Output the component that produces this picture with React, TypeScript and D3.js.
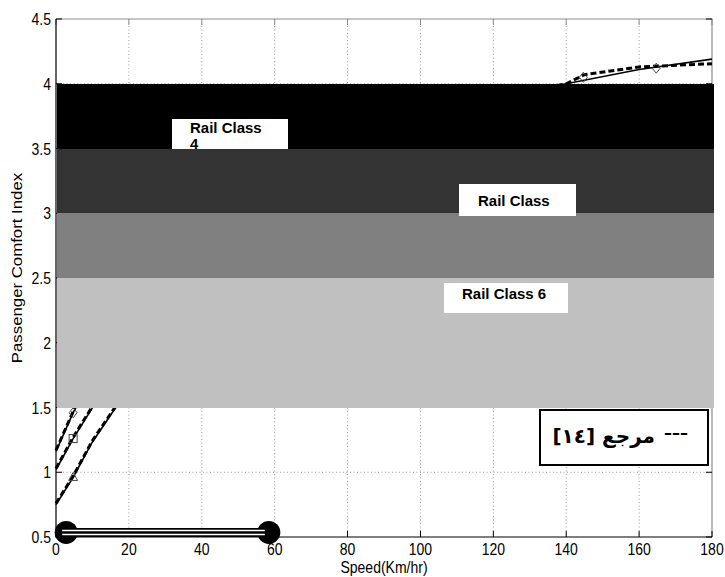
import React from 'react';
import * as d3 from 'd3';

// axis ticks
const speedTicks = [0, 20, 40, 60, 80, 100, 120, 140, 160, 180];
const indexTicks = [0.5, 1, 1.5, 2, 2.5, 3, 3.5, 4, 4.5];

// comfort bands (rail classes), low -> high
const bandLow = [1.5, 2.5, 3, 3.5];
const bandHigh = [2.5, 3, 3.5, 4];
const bandFill = ['#c0c0c0', '#808080', '#333333', '#000000'];

// simulated curves (solid) and reference [14] curves (dashed): [speed, index]
const curveA: [number, number][] = [[0, 1.16], [4.7, 1.46], [20, 2.3], [40, 2.9], [60, 3.3], [80, 3.55], [100, 3.75], [120, 3.9], [140, 4.0], [160, 4.11], [180, 4.19]];
const curveB: [number, number][] = [[0, 1.02], [4.7, 1.26], [20, 1.95], [40, 2.5], [60, 2.9], [80, 3.2], [100, 3.4], [120, 3.55], [140, 3.7], [160, 3.8], [180, 3.88]];
const curveC: [number, number][] = [[0, 0.75], [4.7, 0.96], [9.9, 1.23], [20, 1.65], [40, 2.2], [60, 2.6], [80, 2.9], [100, 3.1], [120, 3.3], [140, 3.45], [160, 3.55], [180, 3.62]];
const refA: [number, number][] = [[0, 1.17], [4.7, 1.47], [20, 2.32], [40, 2.9], [60, 3.3], [80, 3.55], [100, 3.75], [120, 3.9], [140, 4.0], [145, 4.07], [160, 4.13], [180, 4.155]];
const refB: [number, number][] = [[0, 1.03], [4.7, 1.27], [20, 1.96], [40, 2.5], [60, 2.9], [80, 3.2], [100, 3.4], [120, 3.55], [140, 3.7], [160, 3.8], [180, 3.88]];
const refC: [number, number][] = [[0, 0.76], [4.7, 0.97], [9.9, 1.24], [20, 1.66], [40, 2.2], [60, 2.6], [80, 2.9], [100, 3.1], [120, 3.3], [140, 3.45], [160, 3.55], [180, 3.62]];

// markers on the curves
const diamondPts: [number, number][] = [[4.7, 1.46], [144.7, 4.05], [164.7, 4.12]];
const squarePts: [number, number][] = [[4.7, 1.26]];
const trianglePts: [number, number][] = [[4.7, 0.96]];

// rail segment drawn along the bottom
const railSpeeds = [2.8, 58.4];
const railIndex = 0.535;

const classLabels = [['Rail Class', '4'], ['Rail Class'], ['Rail Class 6']];
const legendDash = '---';
const legendText = 'مرجع [١٤]';

const W = 725;
const H = 577;
const x = d3.scaleLinear().domain([0, 180]).range([56, 712]);
const y = d3.scaleLinear().domain([0.5, 4.5]).range([537, 19]);

// annotation boxes in pixels: [x, y, w, h, textX, baseline]
const boxes = [
  [172, 119, 116, 30, 190, 133],
  [459, 184, 117, 32, 478, 206],
  [444, 283, 124, 30, 462, 299],
];

const line = d3.line<[number, number]>().x(d => x(d[0])).y(d => y(d[1]));
const sans = '"Liberation Sans", Arial, sans-serif';

const App = () => {
  const xl = x.range()[0];
  const xr = x.range()[1];
  const yt = y.range()[1];
  const yb = y.range()[0];
  const railY = y(railIndex);

  return (
    <svg width={W} height={H} style={{ position: 'absolute', left: 0, top: 0, background: '#fff' }}>
      <rect x={0} y={0} width={W} height={H} fill="#fff" />

      {/* grid */}
      <g stroke="#9a9a9a" strokeWidth={1} strokeDasharray="1,2.5">
        {speedTicks.slice(1, -1).map(t => (
          <line key={'gx' + t} x1={x(t)} x2={x(t)} y1={yt} y2={yb} />
        ))}
        {indexTicks.slice(1, -1).map(t => (
          <line key={'gy' + t} x1={xl} x2={xr} y1={y(t)} y2={y(t)} />
        ))}
      </g>

      {/* top / right frame */}
      <path d={`M${xl},${yt}H${xr}V${yb}`} fill="none" stroke="#8c8c8c" strokeWidth={1.2} />

      {/* ticks */}
      <g stroke="#000" strokeWidth={1}>
        {speedTicks.map(t => (
          <g key={'tx' + t}>
            <line x1={x(t)} x2={x(t)} y1={yb} y2={yb - 6} />
            <line x1={x(t)} x2={x(t)} y1={yt} y2={yt + 6} stroke="#8c8c8c" />
          </g>
        ))}
        {indexTicks.map(t => (
          <g key={'ty' + t}>
            <line x1={xl} x2={xl + 6} y1={y(t)} y2={y(t)} />
            <line x1={xr} x2={xr - 6} y1={y(t)} y2={y(t)} />
          </g>
        ))}
      </g>

      {/* curves */}
      <g fill="none" stroke="#000">
        {[curveA, curveB, curveC].map((c, i) => (
          <path key={'s' + i} d={line(c) || ''} strokeWidth={1.6} />
        ))}
        {[refA, refB, refC].map((c, i) => (
          <path key={'r' + i} d={line(c) || ''} strokeWidth={3} strokeDasharray="6,3" />
        ))}
      </g>
      <g fill="none" stroke="#444" strokeWidth={1}>
        {diamondPts.map((p, i) => (
          <path key={'d' + i} d={`M${x(p[0])},${y(p[1]) - 5}l4,5l-4,5l-4,-5z`} />
        ))}
        {squarePts.map((p, i) => (
          <rect key={'q' + i} x={x(p[0]) - 4} y={y(p[1]) - 4} width={8} height={8} />
        ))}
        {trianglePts.map((p, i) => (
          <path key={'t' + i} d={`M${x(p[0])},${y(p[1]) - 5}l4.5,8h-9z`} />
        ))}
      </g>

      {/* comfort bands */}
      {bandLow.map((lo, i) => {
        const top = Math.round(y(bandHigh[i]));
        const bot = Math.round(y(lo));
        return (
          <rect key={'b' + i} x={xl + 0.5} y={top} width={xr - xl + 1} height={bot - top} fill={bandFill[i]} shapeRendering="crispEdges" />
        );
      })}

      {/* class labels */}
      {boxes.map((b, i) => (
        <g key={'lb' + i}>
          <rect x={b[0]} y={b[1]} width={b[2]} height={b[3]} fill="#fff" />
          {classLabels[i].map((s, j) => (
            <text key={j} x={b[4]} y={b[5] + j * 16} fontFamily={sans} fontWeight="bold" fontSize={15} fill="#000">{s}</text>
          ))}
        </g>
      ))}
      {/* dark band hides the overflow of the first label */}
      <rect x={boxes[0][0]} y={Math.round(y(3.5))} width={boxes[0][2]} height={6} fill={bandFill[2]} shapeRendering="crispEdges" />

      {/* left / bottom axis */}
      <path d={`M${xl},${yt}V${yb}H${xr}`} fill="none" stroke="#000" strokeWidth={1.2} />

      {/* tick labels */}
      <g fontFamily={sans} fontSize={14} fill="#000">
        {speedTicks.map(t => (
          <text key={'lx' + t} transform={`translate(${x(t)},${yb + 18}) scale(1,1.2)`} textAnchor="middle">{t}</text>
        ))}
        {indexTicks.map(t => (
          <text key={'ly' + t} transform={`translate(${xl - 5},${y(t) + 6}) scale(1,1.2)`} textAnchor="end">{t}</text>
        ))}
        <text transform={`translate(${x(90)},${H - 4}) scale(1,1.2)`} textAnchor="middle">Speed(Km/hr)</text>
        <text transform={`translate(22,268) scale(1,1.2) rotate(-90)`} textAnchor="middle">Passenger Comfort Index</text>
      </g>

      {/* rail segment */}
      <line x1={x(railSpeeds[0])} x2={x(railSpeeds[1])} y1={railY} y2={railY} stroke="#000" strokeWidth={9} />
      {railSpeeds.map((s, i) => (
        <circle key={'c' + i} cx={x(s)} cy={railY} r={11.5} fill="#000" />
      ))}
      <g stroke="#fff" strokeWidth={1.6}>
        <line x1={x(railSpeeds[0]) - 4} x2={x(railSpeeds[1]) - 4} y1={railY - 2} y2={railY - 2} />
        <line x1={x(railSpeeds[0]) - 4} x2={x(railSpeeds[1]) - 4} y1={railY + 2} y2={railY + 2} />
      </g>

      {/* legend */}
      <rect x={540} y={410} width={168} height={55} fill="#fff" stroke="#000" strokeWidth={2} />
      <text x={664} y={440} fontFamily='"Liberation Serif", serif' fontWeight="bold" fontSize={24} fill="#000" textLength={24} lengthAdjust="spacingAndGlyphs">{legendDash}</text>
      <text x={655} y={443} textAnchor="end" fontFamily='"DejaVu Sans", sans-serif' fontWeight="bold" fontSize={20} fill="#000">{legendText}</text>
    </svg>
  );
};

export default App;
